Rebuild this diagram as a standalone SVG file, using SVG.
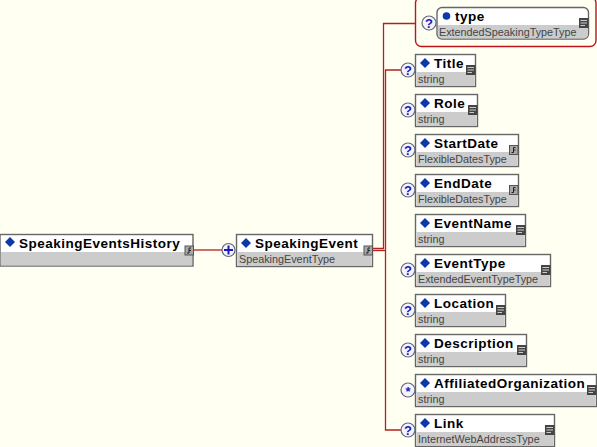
<svg xmlns="http://www.w3.org/2000/svg" width="597" height="447" viewBox="0 0 597 447">
<style>
.box{fill:#fff;stroke:#666;stroke-width:1.4}
.low{fill:#ccc}
.nm{font:bold 13.5px "Liberation Sans",Arial,sans-serif;letter-spacing:.5px;fill:#000}
.ty{font:10.8px "Liberation Sans",Arial,sans-serif;fill:#444}
.dm{fill:#0a3aa8}
.con{fill:none;stroke:#b5201c;stroke-width:1.3}
.opt{fill:#f4f4ff;stroke:#667;stroke-width:1.2}
.q{font:bold 13px "Liberation Sans",Arial,sans-serif;fill:#1a1ab8;text-anchor:middle}
.dk{fill:#444}
.ln{stroke:#ccc;stroke-width:1}
.rf{fill:#a8a8a8;stroke:#555;stroke-width:1}
.rs{fill:none;stroke:#222;stroke-width:1}
</style>
<defs>
<path id="d" class="dm" d="M0-5 5 0 0 5-5 0Z"/>
<g id="doc"><rect class="dk" width="9.500" height="10"/><path class="ln" d="M1.500 2.500H8M1.500 5H8M1.500 7.500H6"/></g>
<g id="ref"><rect class="rf" x=".5" y=".5" width="8.500" height="9"/><path class="rs" d="M6.500 2.500H4.500V7.500H2.500M4.500 5H6.500"/></g>
<g id="q"><circle class="opt" r="7"/><text class="q" y="4.800">?</text></g>
</defs>
<rect width="597" height="447" fill="#fffff2"/>
<g id="connectors">
<path class="con" d="M193 250H222"/>
<path class="con" d="M373 248.500H383.500V23.500H416"/>
<path class="con" d="M373 250.500H385.500"/>
<path class="con" d="M401 70H385.500V430H401"/>
</g>
<g id="SpeakingEventsHistory"><rect class="box" x="0" y="234.500" width="193" height="31.500"/><rect class="low" x="1" y="252" width="191" height="13.500"/><use href="#d" x="10" y="242"/><text class="nm" x="19" y="248">SpeakingEventsHistory</text><use href="#ref" x="184.500" y="245.500"/></g>
<g id="plus"><circle class="opt" cx="228.500" cy="250" r="6.500"/><path d="M224 250H233M228.500 245.500V254.500" stroke="#1a1ab8" stroke-width="2" fill="none"/></g>
<g id="SpeakingEvent"><rect class="box" x="236.500" y="234.500" width="136" height="32"/><rect class="low" x="237.500" y="252" width="134" height="14"/><use href="#d" x="246" y="243"/><text class="nm" x="255" y="248">SpeakingEvent</text><text class="ty" x="239" y="263">SpeakingEventType</text><use href="#ref" x="363.500" y="245.500"/></g>
<g id="type"><rect x="415.500" y="-3" width="180.500" height="49.500" rx="6" fill="#fffff2" stroke="#c0141c" stroke-width="1.400"/><use href="#q" x="429" y="23"/><rect class="box" x="437" y="7.500" width="151.500" height="31.500" rx="5"/><path class="low" d="M438 25H588V33.500Q588 38.500 583 38.500H442Q438 38.500 438 33.500Z"/><circle cx="446.500" cy="16" r="3.800" class="dm"/><text class="nm" x="455" y="21">type</text><text class="ty" x="439" y="36">ExtendedSpeakingTypeType</text><use href="#doc" x="579" y="18"/></g>
<g id="Title"><use href="#q" x="408" y="70"/><rect class="box" x="415.500" y="54.500" width="60" height="32"/><rect class="low" x="416.500" y="72" width="58" height="14"/><use href="#d" x="425" y="63"/><text class="nm" x="434" y="68">Title</text><text class="ty" x="418" y="83">string</text><use href="#doc" x="466" y="65"/></g>
<g id="Role"><use href="#q" x="408" y="110"/><rect class="box" x="415.500" y="94.500" width="62" height="32"/><rect class="low" x="416.500" y="112" width="60" height="14"/><use href="#d" x="425" y="103"/><text class="nm" x="434" y="108">Role</text><text class="ty" x="418" y="123">string</text><use href="#doc" x="468" y="105"/></g>
<g id="StartDate"><use href="#q" x="408" y="150"/><rect class="box" x="415.500" y="134.500" width="103" height="32"/><rect class="low" x="416.500" y="152" width="101" height="14"/><use href="#d" x="425" y="143"/><text class="nm" x="434" y="148">StartDate</text><text class="ty" x="418" y="163">FlexibleDatesType</text><use href="#ref" x="509" y="145"/></g>
<g id="EndDate"><use href="#q" x="408" y="190"/><rect class="box" x="415.500" y="174.500" width="103" height="32"/><rect class="low" x="416.500" y="192" width="101" height="14"/><use href="#d" x="425" y="183"/><text class="nm" x="434" y="188">EndDate</text><text class="ty" x="418" y="203">FlexibleDatesType</text><use href="#ref" x="509" y="185"/></g>
<g id="EventName"><rect class="box" x="415.500" y="214.500" width="110" height="32"/><rect class="low" x="416.500" y="232" width="108" height="14"/><use href="#d" x="425" y="223"/><text class="nm" x="434" y="228">EventName</text><text class="ty" x="418" y="243">string</text><use href="#doc" x="516" y="225"/></g>
<g id="EventType"><use href="#q" x="408" y="270"/><rect class="box" x="415.500" y="254.500" width="135" height="32"/><rect class="low" x="416.500" y="272" width="133" height="14"/><use href="#d" x="425" y="263"/><text class="nm" x="434" y="268">EventType</text><text class="ty" x="418" y="283">ExtendedEventTypeType</text><use href="#doc" x="541" y="265"/></g>
<g id="Location"><use href="#q" x="408" y="310"/><rect class="box" x="415.500" y="294.500" width="90" height="32"/><rect class="low" x="416.500" y="312" width="88" height="14"/><use href="#d" x="425" y="303"/><text class="nm" x="434" y="308">Location</text><text class="ty" x="418" y="323">string</text><use href="#doc" x="496" y="305"/></g>
<g id="Description"><use href="#q" x="408" y="350"/><rect class="box" x="415.500" y="334.500" width="111" height="32"/><rect class="low" x="416.500" y="352" width="109" height="14"/><use href="#d" x="425" y="343"/><text class="nm" x="434" y="348">Description</text><text class="ty" x="418" y="363">string</text><use href="#doc" x="517" y="345"/></g>
<g id="AffiliatedOrganization"><circle class="opt" cx="408" cy="390" r="7"/><text class="q" x="408" y="396">*</text><rect class="box" x="415.500" y="374.500" width="181" height="32"/><rect class="low" x="416.500" y="392" width="179" height="14"/><use href="#d" x="425" y="383"/><text class="nm" x="434" y="388">AffiliatedOrganization</text><text class="ty" x="418" y="403">string</text><use href="#doc" x="587" y="385"/></g>
<g id="Link"><use href="#q" x="408" y="430"/><rect class="box" x="415.500" y="414.500" width="139" height="32"/><rect class="low" x="416.500" y="432" width="137" height="14"/><use href="#d" x="425" y="423"/><text class="nm" x="434" y="428">Link</text><text class="ty" x="418" y="443">InternetWebAddressType</text><use href="#doc" x="545" y="425"/></g>
</svg>
